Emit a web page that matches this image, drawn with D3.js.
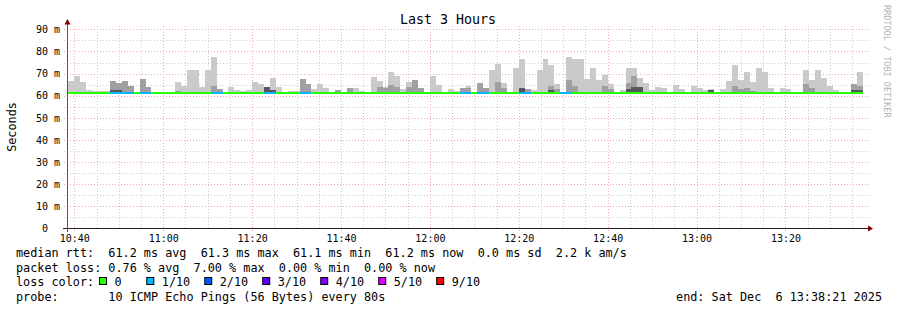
<!DOCTYPE html>
<html>
<head>
<meta charset="utf-8">
<script src="https://d3js.org/d3.v7.min.js"></script>
<style>
body { margin: 0; background: #fff; }
svg text { font-family: "DejaVu Sans Mono", monospace; white-space: pre; }
</style>
</head>
<body>
<div id="chart"></div>
<script>
// probe timing
var endTime = new Date(2025, 11, 6, 13, 38, 21);
var startTime = new Date(endTime.getTime() - 3 * 3600 * 1000);
var stepSeconds = 80;
var firstStepOffset = 20; // first step starts this many seconds after the left edge

// smoke: top of the outer (light), middle and inner (dark) ping bands, ms; null = nothing above the median
var pingMax = [
    66.8, 69.1, 66.0, 62.7, 62.3, 62.3, 62.3, 66.8, 65.9, 66.8,
    64.5, null, 67.7, 64.1, null, null, null, null, 66.4, 64.5,
    71.8, 71.8, 64.1, 71.4, 77.3, 63.2, null, 64.1, 62.7, 62.3,
    62.7, 66.4, 65.2, 64.1, 68.2, 64.1, null, 62.3, 62.3, 67.7,
    65.5, 63.2, 65.5, 63.6, null, 62.7, null, 63.6, 63.6, 62.3,
    null, 68.6, 66.8, 64.1, 70.5, 69.1, 63.2, 66.4, 67.3, 63.6,
    null, 69.1, 65.0, null, 63.2, 62.0, 63.6, 64.5, null, 65.9,
    63.6, 71.4, 74.5, 65.9, null, 72.3, 76.8, 63.2, 62.7, 71.8,
    76.4, 74.1, 65.2, null, 77.3, 76.4, 76.4, 67.7, 72.7, 67.3,
    69.5, 65.5, null, 62.7, 72.3, 72.7, 68.2, 65.9, 62.7, 64.1,
    63.6, null, 65.0, 63.2, null, 64.5, 63.6, 62.7, 63.2, null,
    63.2, 66.8, 74.1, 67.3, 70.9, 66.4, 72.3, 70.5, 63.6, null,
    63.6, 63.2, null, null, 71.4, 67.3, 71.8, 68.2, 64.5, 62.7,
    null, null, 65.5, 70.9
];
var pingMid = [
    null, null, null, null, null, null, null, 66.8, 65.9, 66.8,
    64.5, null, 67.7, 64.1, null, null, null, null, 62.3, null,
    null, null, null, null, 64.5, 63.2, null, null, null, null,
    null, null, null, 64.1, null, null, null, null, null, 67.7,
    65.5, null, null, null, null, 62.7, null, 63.6, null, null,
    null, null, 64.1, 63.6, 65.0, 64.1, null, 64.1, 67.3, 63.6,
    null, null, null, null, null, null, 63.6, 63.6, null, 65.9,
    63.6, null, 66.4, 63.6, null, null, null, 63.2, null, null,
    null, 64.5, 63.2, null, 67.3, 64.5, null, null, null, null,
    64.5, 63.2, null, null, 65.9, 69.1, 64.1, null, null, null,
    null, null, null, null, null, null, null, null, null, null,
    null, null, 64.5, 63.2, 63.6, 62.3, null, null, null, null,
    null, null, null, null, 65.5, 63.6, null, null, null, null,
    null, null, 65.5, 64.5
];
var pingInner = [
    null, null, null, null, null, null, null, 62.7, 62.7, null,
    null, null, null, null, null, null, null, null, null, null,
    null, null, null, null, null, null, null, null, null, null,
    null, null, null, 64.1, 62.7, null, null, null, null, null,
    null, null, null, null, null, null, null, null, null, null,
    null, null, null, null, null, null, null, null, null, null,
    null, null, null, null, null, null, null, null, null, null,
    null, null, null, null, null, null, 63.6, null, null, null,
    null, 62.7, null, null, null, null, null, null, null, null,
    null, null, null, null, 63.2, 64.1, 64.1, null, null, null,
    null, null, null, null, null, null, null, null, 62.7, null,
    null, null, null, null, null, null, null, null, null, null,
    null, null, null, null, null, null, null, null, null, null,
    null, null, 62.7, 62.7
];
// median rtt per step, ms
var median = [
    61.2, 61.2, 61.2, 61.2, 61.2, 61.2, 61.2, 61.2, 61.2, 61.2,
    61.2, 61.2, 61.2, 61.2, 61.2, 61.2, 61.2, 61.2, 61.2, 61.2,
    61.2, 61.2, 61.2, 61.2, 61.2, 61.2, 61.2, 61.2, 61.2, 61.2,
    61.2, 61.2, 61.2, 61.2, 61.2, 61.2, 61.2, 61.2, 61.2, 61.2,
    61.2, 61.2, 61.2, 61.2, 61.2, 61.2, 61.2, 61.2, 61.2, 61.2,
    61.2, 61.2, 61.2, 61.2, 61.2, 61.2, 61.2, 61.2, 61.2, 61.2,
    61.2, 61.2, 61.2, 61.2, 61.2, 61.2, 61.2, 61.2, 61.2, 61.2,
    61.2, 61.2, 61.2, 61.2, 61.2, 61.2, 61.2, 61.2, 61.2, 61.2,
    61.2, 61.2, 61.2, 61.2, 61.2, 61.2, 61.2, 61.2, 61.2, 61.2,
    61.2, 61.2, 61.2, 61.2, 61.2, 61.2, 61.2, 61.2, 61.2, 61.2,
    61.2, 61.2, 61.2, 61.2, 61.2, 61.2, 61.2, 61.2, 61.2, 61.2,
    61.2, 61.2, 61.2, 61.2, 61.2, 61.2, 61.2, 61.2, 61.2, 61.2,
    61.2, 61.2, 61.2, 61.2, 61.2, 61.2, 61.2, 61.2, 61.2, 61.2,
    61.2, 61.2, 61.2, 61.2
];
// lost pings out of 10 per step
var lossCount = [
    0, 0, 0, 0, 0, 0, 0, 1, 1, 1,
    1, 0, 1, 1, 0, 0, 0, 0, 0, 0,
    0, 0, 0, 0, 1, 1, 0, 0, 0, 0,
    0, 0, 0, 1, 1, 0, 0, 0, 0, 1,
    1, 0, 0, 0, 0, 0, 0, 0, 0, 0,
    0, 0, 0, 0, 0, 0, 0, 0, 0, 0,
    0, 0, 0, 0, 0, 0, 1, 1, 0, 1,
    1, 0, 0, 0, 0, 0, 1, 1, 0, 0,
    0, 0, 0, 1, 1, 0, 0, 0, 0, 0,
    0, 0, 0, 0, 0, 0, 0, 0, 0, 0,
    0, 0, 0, 0, 0, 0, 0, 0, 0, 0,
    0, 0, 0, 0, 0, 0, 0, 0, 0, 0,
    0, 0, 0, 0, 0, 0, 0, 0, 0, 0,
    0, 0, 0, 0
];

var lossColors = ["#26ff00", "#00b8ff", "#0059ff", "#5e00ff", "#7e00ff", "#dd00ff", "#ff0000"];
var lossLabels = ["0", "1/10", "2/10", "3/10", "4/10", "5/10", "9/10"];
var yTickValues = [0, 10, 20, 30, 40, 50, 60, 70, 80, 90];

var rttLine = "median rtt:  61.2 ms avg  61.3 ms max  61.1 ms min  61.2 ms now  0.0 ms sd  2.2 k am/s";
var lossLine = "packet loss: 0.76 % avg  7.00 % max  0.00 % min  0.00 % now";
var probeLine = "probe:       10 ICMP Echo Pings (56 Bytes) every 80s";
var endLine = "end: Sat Dec  6 13:38:21 2025";

var svg = d3.select("#chart").append("svg")
    .attr("width", 897)
    .attr("height", 310);

svg.append("rect").attr("width", 897).attr("height", 310).attr("fill", "#fff");

var x = d3.scaleTime().domain([startTime, endTime]).range([67, 867]);
var y = d3.scaleLinear().domain([0, 91.5]).range([228.5, 26]);

function stepStart(i) {
    return new Date(startTime.getTime() + (firstStepOffset + i * stepSeconds) * 1000);
}
function stepEnd(i) {
    return stepStart(i + 1);
}
function lossColor(n) {
    return n <= 5 ? lossColors[n] : lossColors[6];
}

// grid
var grid = svg.append("g");
var minorTimes = d3.timeMinute.every(5).range(startTime, endTime).filter(d => d.getMinutes() % 20 != 0);
var majorTimes = d3.timeMinute.every(20).range(startTime, endTime);
var minorVals = d3.range(5, 91, 10);
var minorColor = "#cdcdcd", majorColor = "#f2acac";

grid.selectAll(".vminor").data(minorTimes).enter().append("line")
    .attr("x1", d => Math.round(x(d)) + 0.5).attr("x2", d => Math.round(x(d)) + 0.5)
    .attr("y1", 228).attr("y2", 26)
    .attr("stroke", minorColor).attr("stroke-dasharray", "1,2");
grid.selectAll(".hminor").data(minorVals).enter().append("line")
    .attr("x1", 64).attr("x2", 869)
    .attr("y1", d => Math.round(y(d)) + 0.5).attr("y2", d => Math.round(y(d)) + 0.5)
    .attr("stroke", minorColor).attr("stroke-dasharray", "1,2");
grid.selectAll(".vmajor").data(majorTimes).enter().append("line")
    .attr("x1", d => Math.round(x(d)) + 0.5).attr("x2", d => Math.round(x(d)) + 0.5)
    .attr("y1", 231).attr("y2", 26)
    .attr("stroke", majorColor).attr("stroke-dasharray", "1,2");
grid.selectAll(".hmajor").data(yTickValues.slice(1)).enter().append("line")
    .attr("x1", 64).attr("x2", 869)
    .attr("y1", d => Math.round(y(d)) + 0.5).attr("y2", d => Math.round(y(d)) + 0.5)
    .attr("stroke", majorColor).attr("stroke-dasharray", "1,2");

// smoke
var steps = d3.range(median.length);
function smokeLayer(values, color) {
    svg.append("g").selectAll("rect")
        .data(steps.filter(i => values[i] != null))
        .enter().append("rect")
        .attr("x", i => Math.round(x(stepStart(i))))
        .attr("width", i => Math.round(x(stepEnd(i))) - Math.round(x(stepStart(i))))
        .attr("y", i => Math.round(y(values[i])))
        .attr("height", i => Math.max(0, Math.round(y(median[i] - 0.4)) - Math.round(y(values[i]))))
        .attr("fill", color);
}
smokeLayer(pingMax, "#cacaca");
smokeLayer(pingMid, "#a0a0a0");
smokeLayer(pingInner, "#585858");

// median line coloured by loss
svg.append("g").selectAll("rect")
    .data(steps)
    .enter().append("rect")
    .attr("x", i => Math.round(x(stepStart(i))))
    .attr("width", i => Math.round(x(stepEnd(i))) - Math.round(x(stepStart(i))))
    .attr("y", i => Math.round(y(median[i])) - 1)
    .attr("height", 2)
    .attr("fill", i => lossColor(lossCount[i]));

// axes
var xAxis = svg.append("g")
    .attr("transform", "translate(0,228.5)")
    .call(d3.axisBottom(x).ticks(d3.timeMinute.every(20)).tickFormat(d3.timeFormat("%H:%M")).tickSize(0).tickPadding(6));
xAxis.select(".domain").remove();
xAxis.selectAll("text").attr("font-family", "DejaVu Sans Mono").attr("font-size", "10px").attr("fill", "#000");

var yAxis = svg.append("g")
    .attr("transform", "translate(67,0)")
    .call(d3.axisLeft(y).tickValues(yTickValues).tickFormat(d => d == 0 ? "0  " : d + " m").tickSize(0).tickPadding(7));
yAxis.select(".domain").remove();
yAxis.selectAll("text").attr("font-family", "DejaVu Sans Mono").attr("font-size", "10px").attr("fill", "#000");

svg.append("line").attr("x1", 63).attr("x2", 869).attr("y1", 228.5).attr("y2", 228.5).attr("stroke", "#212121");
svg.append("line").attr("x1", 67.5).attr("x2", 67.5).attr("y1", 232).attr("y2", 23).attr("stroke", "#555");
svg.append("path").attr("d", "M868,225.5L873,228.5L868,231.5Z").attr("fill", "#800000");
svg.append("path").attr("d", "M64.5,24.5L67.5,19L70.5,24.5Z").attr("fill", "#800000");

// titles
svg.append("text")
    .attr("x", 448).attr("y", 24)
    .attr("text-anchor", "middle")
    .style("font-size", "13.3px")
    .text("Last 3 Hours");

svg.append("text")
    .attr("transform", "translate(16,127) rotate(-90)")
    .attr("text-anchor", "middle")
    .style("font-size", "11.8px")
    .text("Seconds");

svg.append("text")
    .attr("transform", "translate(884,5) rotate(90)")
    .style("font-size", "8.5px")
    .attr("fill", "#b4b4b4")
    .text("RRDTOOL / TOBI OETIKER");

// legend
var legend = svg.append("g").style("font-size", "11.8px").attr("fill", "#000");
legend.append("text").attr("x", 16).attr("y", 257).text(rttLine);
legend.append("text").attr("x", 16).attr("y", 271.5).text(lossLine);
legend.append("text").attr("x", 16).attr("y", 286).text("loss color:");
legend.append("text").attr("x", 16).attr("y", 300.5).text(probeLine);
legend.append("text").attr("x", 882).attr("y", 300.5).attr("text-anchor", "end").text(endLine);

var cursor = 99.5;
lossLabels.forEach(function(label, i) {
    legend.append("rect")
        .attr("x", cursor).attr("y", 277.5)
        .attr("width", 7).attr("height", 7)
        .attr("fill", lossColors[i])
        .attr("stroke", "#000");
    legend.append("text").attr("x", cursor + 15).attr("y", 286).text(label);
    cursor += 15 + Math.max(label.length, 2.5) * 7.12 + 14.5;
});
</script>
</body>
</html>
